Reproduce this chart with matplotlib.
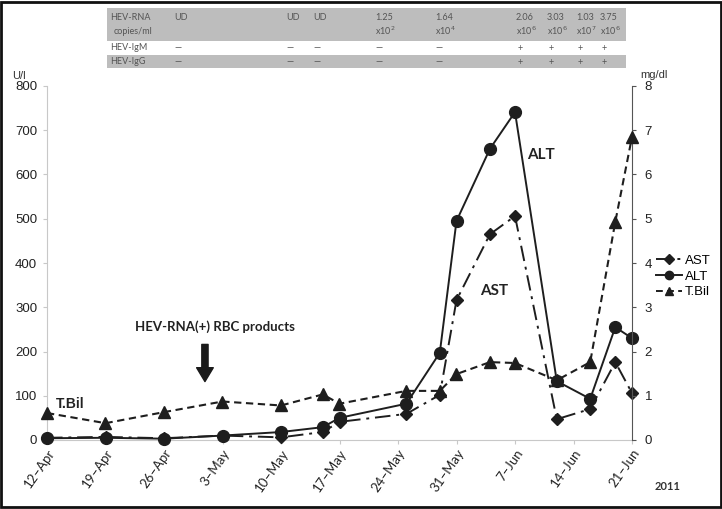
import matplotlib
matplotlib.use("Agg")
import matplotlib.pyplot as plt
from matplotlib.lines import Line2D
from matplotlib.patches import Rectangle
import pandas as pd

# ---------------- data ----------------
dates = ["2011-04-12", "2011-04-19", "2011-04-26", "2011-05-03", "2011-05-10",
         "2011-05-15", "2011-05-17", "2011-05-25", "2011-05-29", "2011-05-31",
         "2011-06-04", "2011-06-07", "2011-06-12", "2011-06-16", "2011-06-19",
         "2011-06-21"]
alt = [4, 5, 3, 10, 18, 29, 50, 82, 197, 495, 658, 741, 133, 93, 255, 230]
ast = [5, 7, 4, 10, 6, 18, 41, 59, 102, 316, 465, 506, 47, 70, 176, 106]
tbil = [0.61, 0.38, 0.63, 0.87, 0.78, 1.03, 0.82, 1.11, 1.11, 1.49, 1.76, 1.74,
        1.35, 1.76, 4.93, 6.85]

tick_dates = ["2011-04-12", "2011-04-19", "2011-04-26", "2011-05-03", "2011-05-10",
              "2011-05-17", "2011-05-24", "2011-05-31", "2011-06-07", "2011-06-14",
              "2011-06-21"]
tick_labels = ["12\u2013Apr", "19\u2013Apr", "26\u2013Apr", "3\u2013May", "10\u2013May",
               "17\u2013May", "24\u2013May", "31\u2013May", "7\u2013Jun", "14\u2013Jun",
               "21\u2013Jun"]

left_ticks = [0, 100, 200, 300, 400, 500, 600, 700, 800]
right_ticks = [0, 1, 2, 3, 4, 5, 6, 7, 8]

# table contents (HEV markers)
table_cols_x = [174, 286, 313, 375, 435, 516, 547, 576, 600]
rna_line1 = ["UD", "UD", "UD", "1.25", "1.64", "2.06", "3.03", "1.03", "3.75"]
rna_line2 = ["", "", "", r"x10$^{2}$", r"x10$^{4}$", r"x10$^{6}$", r"x10$^{6}$",
             r"x10$^{7}$", r"x10$^{6}$"]
igm = ["\u2014", "\u2014", "\u2014", "\u2014", "\u2014", "+", "+", "+", "+"]
igg = ["\u2014", "\u2014", "\u2014", "\u2014", "\u2014", "+", "+", "+", "+"]

# ---------------- figure ----------------
W, H = 722, 509
fig = plt.figure(figsize=(W / 100, H / 100), dpi=100)
fig.patch.set_facecolor("white")

def fx(px):
    return px / W

def fy(py):
    return 1 - py / H

ax_l, ax_r, ax_t, ax_b = 47, 632, 86, 440
ax = fig.add_axes([fx(ax_l), fy(ax_b), fx(ax_r) - fx(ax_l), fy(ax_t) - fy(ax_b)])
ax2 = ax.twinx()

d = pd.to_datetime(dates)
td = pd.to_datetime(tick_dates)

lc = "#1e1e1e"
ax.plot(d, ast, color=lc, lw=1.4, ls=(0, (8, 3, 1.5, 3)), marker="D", ms=6.5,
        zorder=3, clip_on=False, label="AST")
ax.plot(d, alt, color=lc, lw=1.4, ls="-", marker="o", ms=8.5,
        zorder=4, clip_on=False, label="ALT")
ax2.plot(d, tbil, color=lc, lw=1.5, ls=(0, (3.5, 2.2)), marker="^", ms=8.5,
         zorder=3, clip_on=False, label="T.Bil")

ax.set_xlim(td[0], td[-1])
ax.set_ylim(0, 800)
ax2.set_ylim(0, 8)

ax.set_xticks(td)
ax.set_xticklabels(tick_labels, rotation=55, ha="right", rotation_mode="anchor",
                   fontsize=9.5, family="Lato", color="#222")
ax.set_yticks(left_ticks)
ax.set_yticklabels([str(v) for v in left_ticks], fontsize=9.5,
                   family="Liberation Sans", color="#222")
ax2.set_yticks(right_ticks)
ax2.set_yticklabels([str(v) for v in right_ticks], fontsize=9.5,
                    family="Liberation Sans", color="#222")

ax.spines["top"].set_visible(False)
ax2.spines["top"].set_visible(False)
ax.spines["right"].set_visible(False)
ax2.spines["left"].set_visible(False)
ax2.spines["bottom"].set_visible(False)
ax.spines["left"].set_color("#c8c8c8")
ax.spines["bottom"].set_color("#c8c8c8")
ax2.spines["right"].set_color("#555")
ax.tick_params(axis="y", length=3, color="#c8c8c8", pad=4)
ax.tick_params(axis="x", length=3, color="#c8c8c8", pad=2)
ax2.tick_params(axis="y", length=3, color="#555", pad=6)

# annotations
ax.text(0.015, 0.09, "T.Bil", transform=ax.transAxes, fontsize=10,
        fontweight="bold", family="Liberation Sans", color="#222")
ax.text(0.15, 0.32, "HEV-RNA(+) RBC products", transform=ax.transAxes,
        fontsize=9.5, fontweight="bold", family="Lato", color="#222", va="center")
ax.annotate("", xy=(0.27, 0.165), xytext=(0.27, 0.27), xycoords="axes fraction",
            arrowprops=dict(arrowstyle="simple,head_width=1.2,head_length=1.0,tail_width=0.45",
                            color="#1a1a1a", shrinkA=0, shrinkB=0))
ax.text(0.82, 0.805, "ALT", transform=ax.transAxes, fontsize=11,
        fontweight="bold", family="Lato", color="#222", va="center")
ax.text(0.74, 0.42, "AST", transform=ax.transAxes, fontsize=11,
        fontweight="bold", family="Lato", color="#222", va="center")

# legend
handles = [
    Line2D([], [], color=lc, lw=1.4, ls=(0, (8, 3, 1.5, 3)), marker="D", ms=5),
    Line2D([], [], color=lc, lw=1.4, ls="-", marker="o", ms=6),
    Line2D([], [], color=lc, lw=1.4, ls=(0, (3.5, 2.2)), marker="^", ms=6),
]
fig.legend(handles, ["AST", "ALT", "T.Bil"], loc="upper left",
           bbox_to_anchor=(fx(644), fy(243)), frameon=False,
           handlelength=2.0, handletextpad=0.2, labelspacing=0.25,
           prop={"family": "Liberation Sans", "size": 9.5})

# axis unit labels
fig.text(fx(12), fy(76), "U/l", fontsize=8, family="Liberation Sans", color="#333",
         va="center")
fig.text(fx(640), fy(75), "mg/dl", fontsize=8, family="Liberation Sans", color="#333",
         va="center")
fig.text(fx(655), fy(487), "2011", fontsize=8, fontweight="bold", family="Lato",
         color="#333", va="center")

# top table
gray = "#bdbdbd"
tx0, tx1 = 107, 626
fig.patches.append(Rectangle((fx(tx0), fy(41)), fx(tx1 - tx0), fy(8) - fy(41),
                             transform=fig.transFigure, facecolor=gray,
                             edgecolor="none", zorder=0))
fig.patches.append(Rectangle((fx(tx0), fy(68)), fx(tx1 - tx0), fy(55) - fy(68),
                             transform=fig.transFigure, facecolor=gray,
                             edgecolor="none", zorder=0))
tcol = "#555"
tfs = 6.5
fig.text(fx(110), fy(18), "HEV-RNA", fontsize=tfs, color=tcol, family="Lato", va="center")
fig.text(fx(114), fy(31), "copies/ml", fontsize=tfs, color=tcol, family="Lato", va="center")
fig.text(fx(110), fy(48), "HEV-IgM", fontsize=tfs, color=tcol, family="Lato", va="center")
fig.text(fx(110), fy(62), "HEV-IgG", fontsize=tfs, color=tcol, family="Lato", va="center")
for x, a, b, m, g in zip(table_cols_x, rna_line1, rna_line2, igm, igg):
    fig.text(fx(x), fy(18), a, fontsize=tfs, color=tcol, family="Lato", va="center")
    if b:
        fig.text(fx(x), fy(31), b, fontsize=tfs, color=tcol, family="Lato", va="center")
    fig.text(fx(x + 4), fy(48), m, fontsize=tfs, color=tcol, family="Lato",
             va="center", ha="center")
    fig.text(fx(x + 4), fy(62), g, fontsize=tfs, color=tcol, family="Lato",
             va="center", ha="center")

# outer black frame
fig.patches.append(Rectangle((0.002, 0.003), 0.996, 0.994, transform=fig.transFigure,
                             facecolor="none", edgecolor="#111", lw=2.0, zorder=10))

fig.savefig("out.png", dpi=100)
